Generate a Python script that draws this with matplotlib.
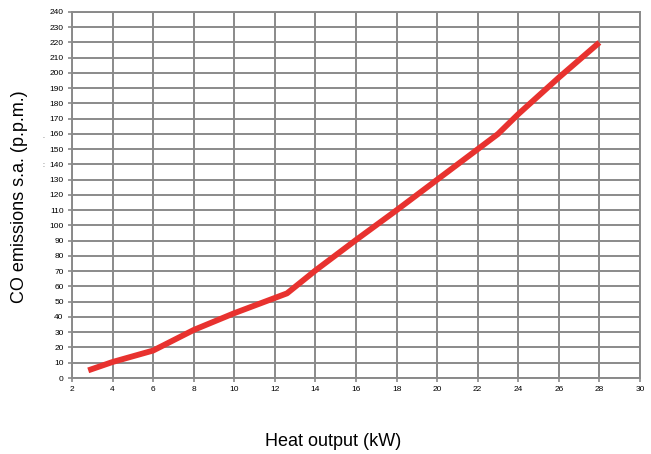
import numpy as np
import matplotlib
matplotlib.use('Agg')
import matplotlib.pyplot as plt

# heat output (kW) vs CO emissions (p.p.m.)
heat_kw = [2.8, 4, 6, 8, 10, 12.6, 14, 16, 18, 20, 22, 23, 24, 26, 28]
co_ppm = [5, 10.5, 18, 31.5, 42.5, 55.5, 70.5, 90.5, 110, 130, 150, 160, 173, 197, 220]

x_ticks = list(range(2, 31, 2))
y_ticks = list(range(0, 241, 10))

plt.rcParams['font.family'] = ['Liberation Sans', 'DejaVu Sans']

fig = plt.figure(figsize=(6.51, 4.54), dpi=100)
ax = fig.add_axes([0.1106, 0.1674, 0.983 - 0.1106, 0.9736 - 0.1674])

grid_c = '#8a8a8a'
ax.plot(heat_kw, co_ppm, color='#e8322f', linewidth=4.2, solid_capstyle='butt', zorder=3)

ax.set_xlim(2, 30)
ax.set_ylim(0, 240)
ax.set_xticks(x_ticks)
ax.set_yticks(y_ticks)
ax.grid(True, color=grid_c, linewidth=1.4)
ax.set_axisbelow(True)
for s in ax.spines.values():
    s.set_color(grid_c)
    s.set_linewidth(1.4)
ax.tick_params(direction='out', length=3, width=1.2, color=grid_c, labelsize=6, pad=3)

fig.text(0.030, 0.567, 'CO emissions s.a. (p.p.m.)', rotation=90, fontsize=13,
         ha='center', va='center')
fig.text(0.512, 0.027, 'Heat output (kW)', fontsize=13, ha='center', va='center')

# small stray marks next to the y tick labels
fig.text(0.066, 0.700, '.', fontsize=5, ha='center', va='center', color='#444444')
fig.text(0.067, 0.635, ':', fontsize=5, ha='center', va='center', color='#444444')

fig.savefig('out.png', dpi=100)
